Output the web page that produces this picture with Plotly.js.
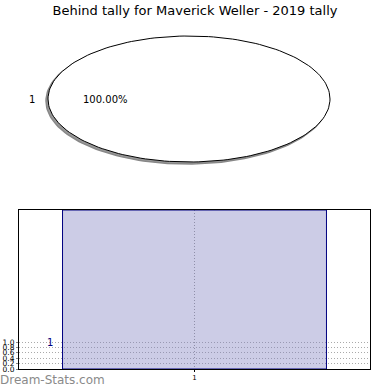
<!DOCTYPE html>
<html>
<head>
<meta charset="utf-8">
<script src="https://cdn.plot.ly/plotly-3.0.1.min.js"></script>
<style>html,body{margin:0;padding:0;background:#fff}#chart{width:390px;height:390px}</style>
</head>
<body>
<div id="chart"></div>
<script>
// ---- data ----
const pieLabels = ['1'];
const pieValues = [1];
const barCategories = [1];
const barValues = [1];
const yTickVals = [0, 0.2, 0.4, 0.6, 0.8, 1.0];
const yTickText = ['0.0', '0.2', '0.4', '0.6', '0.8', '1.0'];
const titleText = 'Behind tally for Maverick Weller - 2019 tally';

// ---- layout helpers (pixels) ----
const W = 390, H = 390;
const FONT = 'DejaVu Sans, sans-serif';
const pie = {cx: 189, cy: 99, rx: 141, ry: 63, shadowDx: -2, shadowDy: 2};

// build elliptical "pie" slice outlines from the data fractions
const total = pieValues.reduce((a, b) => a + b, 0);
function slicePath(startFrac, frac, dx, dy) {
  const xs = [], ys = [];
  const n = 180;
  const a0 = startFrac * 2 * Math.PI, a1 = (startFrac + frac) * 2 * Math.PI;
  if (frac < 1) { xs.push(pie.cx + dx); ys.push(pie.cy + dy); }
  for (let i = 0; i <= n; i++) {
    const a = a0 + (a1 - a0) * i / n;
    xs.push(pie.cx + dx + pie.rx * Math.cos(a));
    ys.push(pie.cy + dy - pie.ry * Math.sin(a));
  }
  if (frac < 1) { xs.push(pie.cx + dx); ys.push(pie.cy + dy); }
  return {xs, ys};
}

const traces = [];
let acc = 0;
pieValues.forEach((v, i) => {
  const f = v / total;
  const sh = slicePath(acc, f, pie.shadowDx, pie.shadowDy);
  traces.push({type: 'scatter', mode: 'lines', x: sh.xs, y: sh.ys, xaxis: 'x3', yaxis: 'y3',
    fill: 'toself', fillcolor: '#999999', line: {color: '#888888', width: 1.5}, hoverinfo: 'skip', showlegend: false});
  const p = slicePath(acc, f, 0, 0);
  traces.push({type: 'scatter', mode: 'lines', x: p.xs, y: p.ys, xaxis: 'x3', yaxis: 'y3',
    fill: 'toself', fillcolor: '#ffffff', line: {color: '#000000', width: 1}, hoverinfo: 'skip', showlegend: false});
  acc += f;
});

// bar trace on an overlay axis scaled to the value range
traces.push({type: 'bar', x: barCategories, y: barValues, xaxis: 'x', yaxis: 'y2', width: 0.752,
  marker: {color: 'rgba(128,128,192,0.4)', line: {color: '#000080', width: 1}},
  hoverinfo: 'skip', showlegend: false});

const annotations = [];
// pie labels
pieValues.forEach((v, i) => {
  annotations.push({xref: 'x3', yref: 'y3', x: 32, y: pie.cy, text: pieLabels[i], showarrow: false,
    xanchor: 'center', yanchor: 'middle', font: {family: FONT, size: 10, color: '#000'}});
  annotations.push({xref: 'x3', yref: 'y3', x: 81, y: pie.cy, text: (100 * v / total).toFixed(2) + '%', showarrow: false,
    xanchor: 'left', yanchor: 'middle', font: {family: FONT, size: 10, color: '#000'}});
});
// bar value label
barValues.forEach((v, i) => {
  annotations.push({xref: 'x', yref: 'y', x: barCategories[i] - 0.376, y: v, text: String(v), showarrow: false,
    xanchor: 'right', yanchor: 'middle', xshift: -8, font: {family: FONT, size: 10, color: '#000080'}});
});
annotations.push({xref: 'paper', yref: 'paper', x: 0, y: 0, text: 'Dream-Stats.com', showarrow: false,
  xanchor: 'left', yanchor: 'bottom', xshift: -2, yshift: 1, font: {family: FONT, size: 12, color: '#8a8a8a'}});

const yTop = 159 / 27; // visible axis maximum so that 0..1 occupies the bottom band
const layout = {
  width: W, height: H,
  margin: {l: 0, r: 0, t: 0, b: 0},
  paper_bgcolor: '#fff', plot_bgcolor: 'rgba(0,0,0,0)',
  showlegend: false,
  title: {text: titleText, font: {family: FONT, size: 13, color: '#000'}, x: 0.5, xanchor: 'center', y: 1 - 10 / H, yanchor: 'middle'},
  xaxis: {domain: [19 / W, 370 / W], range: [0.5, 1.5], tickvals: barCategories, ticktext: barCategories.map(String),
    showline: true, mirror: true, linecolor: '#000', linewidth: 1, ticks: 'outside', ticklen: 2, tickcolor: '#000',
    showgrid: true, gridcolor: '#999999', griddash: '1px,2px', gridwidth: 1, zeroline: false, layer: 'above traces',
    tickfont: {family: FONT, size: 7, color: '#000'}, fixedrange: true},
  yaxis: {domain: [1 - 369 / H, 1 - 210 / H], range: [0, yTop], tickvals: yTickVals, ticktext: yTickText,
    showline: true, mirror: true, linecolor: '#000', linewidth: 1, ticks: 'outside', ticklen: 2, tickcolor: '#888',
    showgrid: true, gridcolor: '#aaaaaa', griddash: '1px,2px', gridwidth: 1, zeroline: false, layer: 'above traces',
    tickfont: {family: FONT, size: 7.5, color: '#000'}, fixedrange: true},
  yaxis2: {overlaying: 'y', range: [0, 1], visible: false, fixedrange: true},
  xaxis3: {domain: [0, 1], range: [0, W], visible: false, fixedrange: true},
  yaxis3: {domain: [0, 1], range: [H, 0], visible: false, fixedrange: true},
  annotations: annotations
};

Plotly.newPlot('chart', traces, layout, {staticPlot: true, displayModeBar: false});
</script>
</body>
</html>
